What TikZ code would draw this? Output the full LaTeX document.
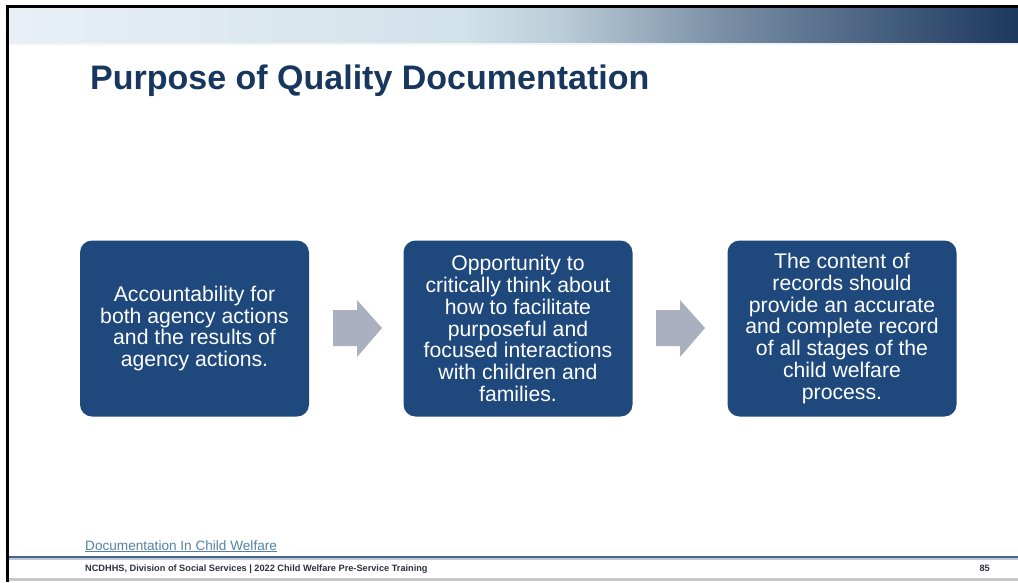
\documentclass[tikz,border=0pt]{standalone}
\usepackage{fontspec}
\setmainfont{Liberation Sans}
\usetikzlibrary{calc}
\definecolor{boxblue}{RGB}{31,73,125}
\definecolor{titleblue}{RGB}{23,55,94}
\definecolor{arrowgray}{RGB}{170,176,192}
\definecolor{linkblue}{RGB}{84,130,165}
\definecolor{footgray}{RGB}{45,50,65}
\definecolor{footline}{RGB}{70,100,140}
\definecolor{barA}{RGB}{232,239,247}
\definecolor{barB}{RGB}{210,226,234}
\definecolor{barC}{RGB}{185,203,215}
\definecolor{barD}{RGB}{125,146,168}
\definecolor{barE}{RGB}{75,100,130}
\definecolor{barF}{RGB}{28,56,94}
\pgfdeclarehorizontalshading{topbar}{100bp}{color(0bp)=(barA); color(25bp)=(barA); color(47.5bp)=(barB); color(52.5bp)=(barC); color(60bp)=(barD); color(67.5bp)=(barE); color(75bp)=(barF); color(100bp)=(barF)}
\tikzset{
  stage/.style={fill=boxblue, rounded corners=12pt, minimum width=229pt, minimum height=176pt,
    text=white, align=center, inner sep=4pt, font=\fontsize{21.2}{21.7}\selectfont},
  blockarrow/.style={fill=arrowgray},
}
\begin{document}
\begin{tikzpicture}[x=1pt,y=-1pt]
\useasboundingbox (0,0) rectangle (1018,582);
\fill[white] (0,0) rectangle (1018,582);
% top gradient bar
\shade[shading=topbar] (9,8) rectangle (1018,43);
\fill[barA!70!white] (9,43) rectangle (1018,44.5);
% black frame
\fill[black] (6,5) rectangle (1018,8);
\fill[black] (6,5) rectangle (9,582);
% title
\node[anchor=base west, inner sep=0, text=titleblue, font=\bfseries\fontsize{34}{40}\selectfont] (title) at (90,89) {Purpose of Quality Documentation};
% boxes
\node[stage] (b1) at (194.5,328.5) {Accountability for\\both agency actions\\and the results of\\agency actions.};
\node[stage] (b2) at (518,328.5) {Opportunity to\\critically think about\\how to facilitate\\purposeful and\\focused interactions\\with children and\\families.};
\node[stage] (b3) at (842,328.5) {The content of\\records should\\provide an accurate\\and complete record\\of all stages of the\\child welfare\\process.};
% block arrows
\fill[blockarrow] (333,310) -- (357,310) -- (357,300) -- (382,328) -- (357,357) -- (357,346) -- (333,346) -- cycle;
\fill[blockarrow] (656,310) -- (680,310) -- (680,300) -- (705,328) -- (680,357) -- (680,346) -- (656,346) -- cycle;
% footer
\node[anchor=base west, inner sep=0, text=linkblue, font=\fontsize{13.6}{16}\selectfont] (link) at (85,550) {\underline{Documentation In Child Welfare}};
\fill[footline] (9,555.5) rectangle (1018,558);
\fill[footline!35!white] (9,558) rectangle (1018,559.5);
\node[anchor=base west, inner sep=0, text=footgray, font=\bfseries\fontsize{9.2}{10}\selectfont] (foot) at (85,571) {NCDHHS, Division of Social Services | 2022 Child Welfare Pre-Service Training};
\node[anchor=base east, inner sep=0, text=footgray, font=\bfseries\fontsize{9.2}{10}\selectfont] (page) at (990,571) {85};
\fill[black!22] (9,578) rectangle (1018,580.5);
\end{tikzpicture}
\end{document}
